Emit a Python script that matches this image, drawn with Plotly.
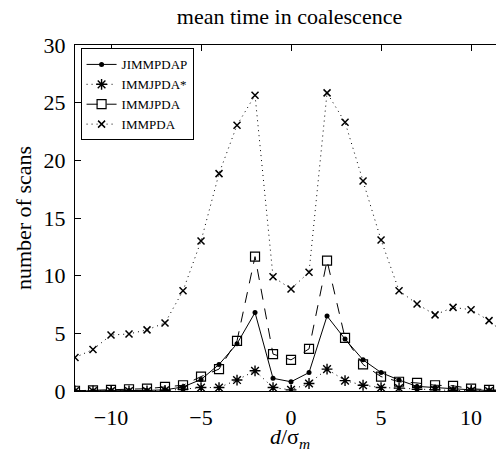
import plotly.graph_objects as go

x_vals = list(range(-12, 13))

jimmpdap = [0.0, 0.0, 0.05, 0.05, 0.05, 0.1, 0.35, 1.0, 2.3, 4.1, 6.8, 1.1, 0.8,
            1.6, 6.5, 4.5, 2.7, 1.6, 0.95, 0.4, 0.3, 0.15, 0.1, 0.05, 0.0]
immjpda_star = [0, 0, 0, 0, 0, 0.05, 0.15, 0.3, 0.3, 0.95, 1.75, 0.3, 0.1,
                0.65, 1.9, 0.9, 0.5, 0.3, 0.25, 0.15, 0.1, 0.05, 0.02, 0, 0]
immjpda = [0.02, 0.05, 0.1, 0.15, 0.2, 0.35, 0.5, 1.25, 1.9, 4.35, 11.65, 3.2, 2.7,
           3.65, 11.3, 4.6, 2.3, 1.25, 0.8, 0.7, 0.5, 0.45, 0.2, 0.1, 0.05]
immpda = [2.9, 3.6, 4.85, 4.95, 5.3, 5.9, 8.7, 13.0, 18.85, 23.05, 25.65, 9.9, 8.85,
          10.3, 25.85, 23.3, 18.2, 13.1, 8.7, 7.55, 6.6, 7.25, 7.05, 6.1, 4.8]

x_ticks = [-10, -5, 0, 5, 10]
y_ticks = [0, 5, 10, 15, 20, 25, 30]

FONT = "Times New Roman, Liberation Serif, DejaVu Serif, serif"

fig = go.Figure()
fig.add_trace(go.Scatter(x=x_vals, y=jimmpdap, name="JIMMPDAP", mode="lines+markers",
                         line=dict(color="black", width=1),
                         marker=dict(symbol="circle", size=5, color="black")))
fig.add_trace(go.Scatter(x=x_vals, y=immjpda_star, name="IMMJPDA*", mode="lines+markers",
                         line=dict(color="black", width=1, dash="1px,4px"),
                         marker=dict(symbol="asterisk-open", size=9,
                                     line=dict(color="black", width=1.4))))
fig.add_trace(go.Scatter(x=x_vals, y=immjpda, name="IMMJPDA", mode="lines+markers",
                         line=dict(color="black", width=1, dash="11px,9px"),
                         marker=dict(symbol="square-open", size=9, color="black",
                                     line=dict(color="black", width=1.2))))
fig.add_trace(go.Scatter(x=x_vals, y=immpda, name="IMMPDA", mode="lines+markers",
                         line=dict(color="black", width=1, dash="1px,4px"),
                         marker=dict(symbol="x-thin-open", size=7,
                                     line=dict(color="black", width=1.5))))

# page body has an 8px margin, so the figure is sized/offset to compensate
fig.update_layout(
    width=496, height=452,
    margin=dict(l=67, r=0, t=37, b=69, autoexpand=False),
    paper_bgcolor="white", plot_bgcolor="white",
    font=dict(family=FONT, size=22, color="black"),
    title=dict(text="mean time in coalescence", x=0.5, xanchor="center",
               xref="paper", yref="container", y=0.982, yanchor="middle",
               automargin=False, pad=dict(t=0, b=0),
               font=dict(family=FONT, size=22, color="black")),
    showlegend=True,
    legend=dict(x=0.013, y=0.99, xanchor="left", yanchor="top",
                bgcolor="white", bordercolor="black", borderwidth=1,
                font=dict(family=FONT, size=13, color="black"),
                tracegroupgap=0, itemwidth=30),
    annotations=[dict(text="<i>d</i>/σ<sub><i>m</i></sub>", xref="paper", yref="paper",
                      x=0.5, y=-0.09, xanchor="center", yanchor="top",
                      showarrow=False, font=dict(family=FONT, size=22, color="black"))],
)
fig.update_xaxes(range=[-12, 11.83], tickvals=x_ticks,
                 ticktext=["\u221210", "\u22125", "0", "5", "10"],
                 ticks="inside", ticklen=6, tickcolor="black",
                 showline=True, linecolor="black", linewidth=1, mirror="ticks",
                 showgrid=False, zeroline=False, ticklabelstandoff=7,
                 automargin=False,
                 tickfont=dict(family=FONT, size=22))
fig.update_yaxes(range=[0, 30], tickvals=y_ticks,
                 ticks="inside", ticklen=6, tickcolor="black",
                 showline=True, linecolor="black", linewidth=1, mirror="ticks",
                 showgrid=False, zeroline=False, ticklabelstandoff=4,
                 automargin=False,
                 tickfont=dict(family=FONT, size=22),
                 title=dict(text="number of scans", standoff=5,
                            font=dict(family=FONT, size=22)))

fig.write_html("out.html")
